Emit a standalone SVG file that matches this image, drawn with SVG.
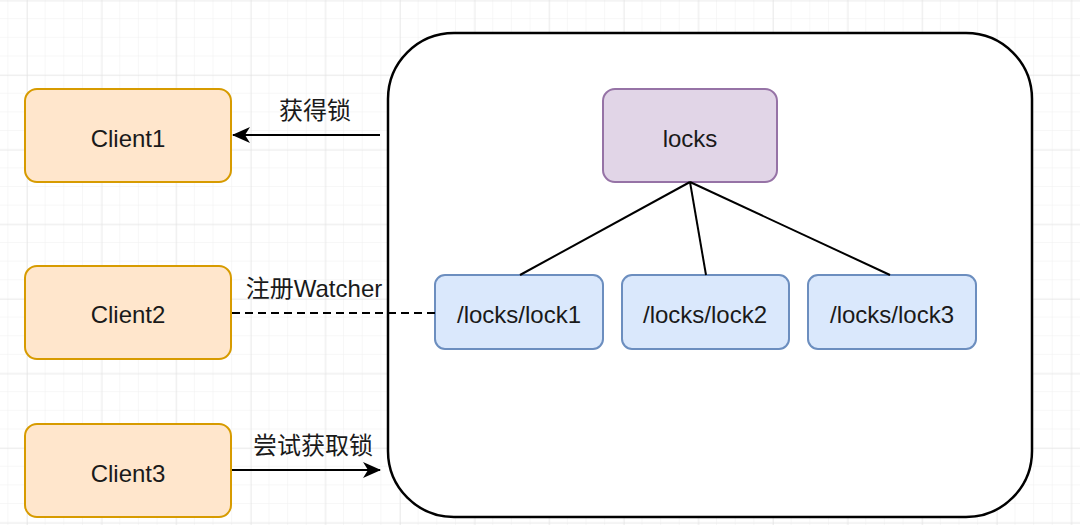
<svg xmlns="http://www.w3.org/2000/svg" width="1080" height="525" viewBox="0 0 1080 525">
<defs>
<pattern id="minor" width="18.65" height="18.65" patternUnits="userSpaceOnUse" x="27" y="0.5">
<path d="M18.65 0V18.65H0" fill="none" stroke="#f0f0f0" stroke-width="1"/>
</pattern>
<pattern id="major" width="74.6" height="74.6" patternUnits="userSpaceOnUse" x="27" y="0.5">
<path d="M0 0V74.6M0 0H74.6" fill="none" stroke="#e0e0e0" stroke-width="1"/>
</pattern>
<marker id="arr" viewBox="0 0 18 16" refX="17" refY="8" markerWidth="18" markerHeight="16" markerUnits="userSpaceOnUse" orient="auto">
<path d="M0 0L18 8L0 16L5 8Z" fill="#000"/>
</marker>
</defs>
<style>
text{font-family:"Liberation Sans","Noto Sans CJK SC",sans-serif;font-size:24px;fill:#1a1a1a;text-anchor:middle;dominant-baseline:central}
.client{fill:#ffe6cc;stroke:#d79b00;stroke-width:2}
.zk{fill:#e1d5e7;stroke:#9673a6;stroke-width:2}
.lock{fill:#dae8fc;stroke:#6c8ebf;stroke-width:2}
.edge{stroke:#000;stroke-width:2;fill:none}
</style>
<rect width="1080" height="525" fill="#fff"/>
<rect width="1080" height="525" fill="url(#minor)"/>
<rect width="1080" height="525" fill="url(#major)"/>
<g id="container"><rect x="388" y="33" width="644" height="484" rx="66" fill="#fff" stroke="#000" stroke-width="2.5"/></g>
<g id="client1"><rect class="client" x="25" y="89" width="206" height="93" rx="12"/><text x="128" y="138">Client1</text></g>
<g id="client2"><rect class="client" x="25" y="266" width="206" height="93" rx="12"/><text x="128" y="314">Client2</text></g>
<g id="client3"><rect class="client" x="25" y="424" width="206" height="93" rx="12"/><text x="128" y="473">Client3</text></g>
<g id="locks"><rect class="zk" x="603" y="89" width="174" height="93" rx="12"/><text x="690" y="138">locks</text></g>
<g id="lock1"><rect class="lock" x="435" y="275" width="168" height="74" rx="10"/><text x="519" y="314">/locks/lock1</text></g>
<g id="lock2"><rect class="lock" x="622" y="275" width="167" height="74" rx="10"/><text x="705" y="314">/locks/lock2</text></g>
<g id="lock3"><rect class="lock" x="808" y="275" width="168" height="74" rx="10"/><text x="892" y="314">/locks/lock3</text></g>
<g id="connectors">
<path class="edge" d="M690 182L520 275"/>
<path class="edge" d="M690 182L706 275"/>
<path class="edge" d="M690 182L890 275"/>
<path class="edge" d="M380 135H233" marker-end="url(#arr)"/>
<path class="edge" d="M232 313H435" stroke-dasharray="8 5"/>
<path class="edge" d="M232 470H380" marker-end="url(#arr)"/>
<text x="315" y="110">获得锁</text>
<text x="314" y="288">注册Watcher</text>
<text x="313" y="445">尝试获取锁</text>
</g>
</svg>
